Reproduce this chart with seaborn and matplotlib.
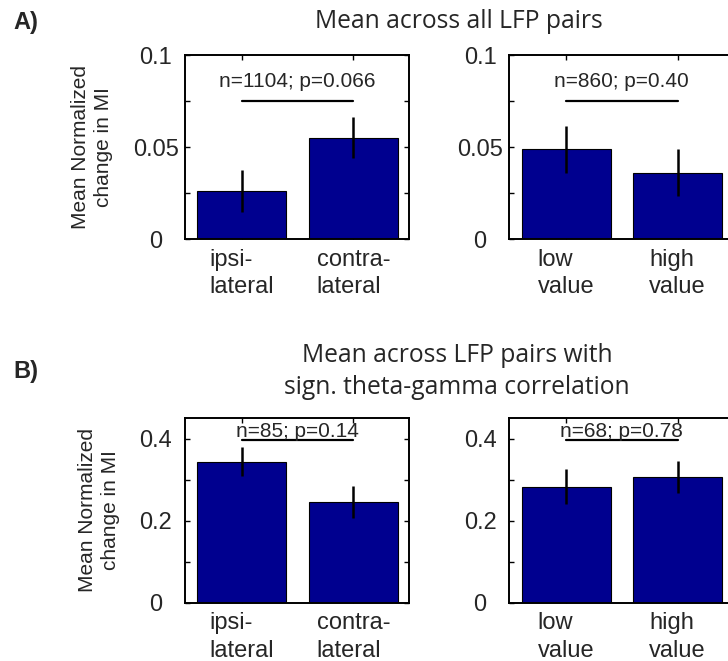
import matplotlib
matplotlib.use("Agg")
import matplotlib.pyplot as plt
import seaborn as sns
import numpy as np

# Mean normalized change in modulation index, with SEM
side_labels = ["ipsi-\nlateral", "contra-\nlateral"]
value_labels = ["low\nvalue", "high\nvalue"]

all_side_mean = [0.0262, 0.0551]
all_side_sem = [0.0112, 0.0112]
all_value_mean = [0.0488, 0.0361]
all_value_sem = [0.0128, 0.0128]

sig_side_mean = [0.3445, 0.2468]
sig_side_sem = [0.0345, 0.0390]
sig_value_mean = [0.2835, 0.3064]
sig_value_sem = [0.0430, 0.0395]

stat_texts = ["n=1104; p=0.066", "n=860; p=0.40", "n=85; p=0.14", "n=68; p=0.78"]

BAR = "#00008F"
TICK_FONT = "Liberation Sans"
TITLE_FONT = "Open Sans"

sns.set_style("white")
plt.rcParams["font.family"] = [TICK_FONT, "DejaVu Sans"]

fig = plt.figure(figsize=(7.28, 6.61), dpi=100)
W, H = 728.0, 661.0


def px_axes(left, top, width, height):
    return fig.add_axes([left / W, 1 - (top + height) / H, width / W, height / H])


def bar_panel(ax, labels, means, sems, ylim, major, minor, stat, line_y, text_y):
    sns.barplot(x=labels, y=means, ax=ax, color=BAR, saturation=1, width=0.8,
                edgecolor="black", linewidth=0.8, errorbar=None)
    ax.errorbar(x=np.arange(len(means)), y=means, yerr=sems, fmt="none",
                ecolor="black", elinewidth=1.8, capsize=0, zorder=5)
    ax.plot([0, 1], [line_y, line_y], color="black", lw=1.6, zorder=5)
    ax.text(0.5, text_y, stat, ha="center", va="center", fontsize=15,
            family=TICK_FONT, zorder=6)
    ax.set_xlim(-0.51, 1.5)
    ax.set_ylim(*ylim)
    ax.set_yticks(major)
    ax.set_yticks(minor, minor=True)
    ax.set_yticklabels([("%g" % v) for v in major])
    for lab in ax.get_yticklabels():
        lab.set_horizontalalignment("center")
    ax.tick_params(which="both", direction="in", top=True, right=True,
                   bottom=True, left=True, length=3.5, width=1.0, color="black")
    ax.tick_params(axis="y", pad=21, labelsize=17)
    ax.tick_params(axis="x", pad=7, labelsize=17)
    for lab in ax.get_xticklabels():
        lab.set_multialignment("left")
        lab.set_linespacing(1.3)
    for sp in ax.spines.values():
        sp.set_visible(True)
        sp.set_color("black")
        sp.set_linewidth(1.4)
    ax.set_xlabel("")
    ax.set_ylabel("")


axA1 = px_axes(185, 55, 224, 184.3)
axA2 = px_axes(509.3, 55, 224, 184.3)
axB1 = px_axes(185, 418.3, 224, 184.4)
axB2 = px_axes(509.3, 418.3, 224, 184.4)

bar_panel(axA1, side_labels, all_side_mean, all_side_sem, (0, 0.1),
          [0, 0.05, 0.1], [0.025, 0.075], stat_texts[0], 0.0752, 0.0855)
bar_panel(axA2, value_labels, all_value_mean, all_value_sem, (0, 0.1),
          [0, 0.05, 0.1], [0.025, 0.075], stat_texts[1], 0.0752, 0.0855)
bar_panel(axB1, side_labels, sig_side_mean, sig_side_sem, (0, 0.45),
          [0, 0.2, 0.4], [0.1, 0.3], stat_texts[2], 0.396, 0.419)
bar_panel(axB2, value_labels, sig_value_mean, sig_value_sem, (0, 0.45),
          [0, 0.2, 0.4], [0.1, 0.3], stat_texts[3], 0.396, 0.417)

for ax in (axA1, axB1):
    ax.set_ylabel("Mean Normalized\nchange in MI", fontsize=15, labelpad=14,
                  linespacing=1.3)

fig.text(459 / W, 1 - 22 / H, "Mean across all LFP pairs", ha="center",
         va="center", fontsize=17.7, family=[TITLE_FONT, "DejaVu Sans"])
fig.text(457 / W, 1 - 371.5 / H,
         "Mean across LFP pairs with\nsign. theta-gamma correlation",
         ha="center", va="center", fontsize=17.7, linespacing=1.4,
         family=[TITLE_FONT, "DejaVu Sans"])

fig.text(13 / W, 1 - 22 / H, "A)", ha="left", va="center", fontsize=17,
         fontweight="bold")
fig.text(13 / W, 1 - 372 / H, "B)", ha="left", va="center", fontsize=17,
         fontweight="bold")

fig.savefig("out.png", dpi=100)
